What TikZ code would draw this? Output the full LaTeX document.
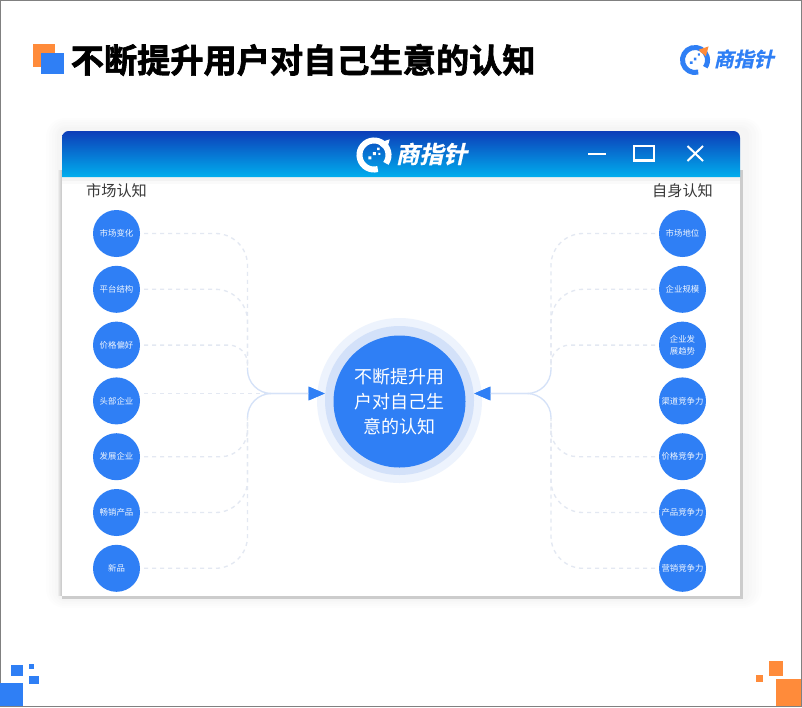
\documentclass[tikz,border=0pt]{standalone}
\usepackage{fontspec}
\setmainfont{Noto Sans CJK SC}
\newfontfamily\titlefont[UprightFont=* Bold,FakeBold=2]{Noto Sans CJK SC}
\newfontfamily\logofont[UprightFont=* Bold,FakeSlant=0.22,FakeBold=0.8]{Noto Sans CJK SC}
\usetikzlibrary{arrows.meta, positioning}
\definecolor{mainblue}{HTML}{2F7FF5}
\definecolor{mainorange}{HTML}{FF8B3A}
\definecolor{barTop}{HTML}{0D3DB8}
\definecolor{barBot}{HTML}{00AEEE}
\definecolor{ringMid}{HTML}{D3E1F9}
\definecolor{ringOut}{HTML}{EDF3FD}
\definecolor{dashGrey}{HTML}{E3E8F2}
\definecolor{hubBlue}{HTML}{D5E2F8}

\begin{document}
\begin{tikzpicture}[
    x=0.75pt, y=-0.75pt,
    itemnode/.style = {shape=circle, fill=mainblue, text=white!92!mainblue, inner sep=0pt,
    outer sep=0pt, minimum size=35.25pt, align=center,
    font=\fontsize{6.3}{8.8}\selectfont},
    headnode/.style = {text=black!78, inner sep=0pt, font=\fontsize{11.4}{13}\selectfont},
    rowlink/.style = {draw=dashGrey, line width=1pt, dash pattern=on 3pt off 3pt,
    shorten <=3pt, rounded corners=24pt},
    hublink/.style = {draw=hubBlue, line width=1pt, rounded corners=18pt,
    -{Triangle[length=12pt, width=10pt, color=mainblue, fill=mainblue]}},
    logotext/.style = {inner sep=0pt, font=\logofont\fontsize{#1}{#1}\selectfont},
    softedge/.style = {fill=black, fill opacity=0.006},
    pics/logomark/.style 2 args = {code = {
      \draw[#1] (75:1) arc[start angle=75, end angle=395, radius=1];
      \fill[#2] (0.3,-0.82) -- (1.08,-1.08) -- (0.86,-0.28) -- (0.68,-0.46) -- (0.45,-0.62) -- cycle;
    }}]

    % page frame
    \useasboundingbox (0,0) rectangle (802,707);
    \fill[white] (0,0) rectangle (802,707);
    \draw[black!50, line width=0.75pt] (0.5,0.5) rectangle (801.5,706.5);

    % heading
    \fill[mainorange] (33,44) rectangle (55,67);
    \fill[mainblue] (41,52.5) rectangle (64,74);
    \node[anchor=west, inner sep=0pt, font=\titlefont\fontsize{24.9}{28}\selectfont] (title) at (70.5,60) {不断提升用户对自己生意的认知};

    % logo, top right
    \begin{scope}[shift={(695,60)}, x=9.4pt, y=-9.4pt, line width=3.75pt]
      \pic {logomark={mainblue}{mainorange}};
      \fill[mainblue] (0.22,-0.52) rectangle +(0.17,0.17) (-0.1,-0.18) rectangle +(0.2,0.2) (-0.4,0.1) rectangle +(0.2,0.2);
    \end{scope}
    \node[logotext=15, text=mainblue, anchor=west] (logoa) at (713.5,59) {商指针};

    % corner squares
    \fill[mainblue] (0,683) rectangle (22.5,706);
    \fill[mainblue] (11,665) rectangle (23,675.5);
    \fill[mainblue] (29,664) rectangle (34,669);
    \fill[mainblue] (29,676) rectangle (39,684);
    \fill[mainorange] (776,679) rectangle (801,706);
    \fill[mainorange] (769,661) rectangle (783,675.5);
    \fill[mainorange] (756,675) rectangle (762.5,682);

    % window
    \fill[softedge, rounded corners=14pt] (46,118) rectangle (762,608);
    \fill[softedge, rounded corners=12pt] (49,120) rectangle (759,606);
    \fill[softedge, rounded corners=10pt] (52,122) rectangle (756,604);
    \fill[softedge, rounded corners=8pt] (55,125) rectangle (752,602);
    \fill[softedge, rounded corners=6pt] (57,127) rectangle (749,601);
    \shade[left color=black!3, right color=black!24] (57,170) rectangle (62,595);
    \fill[black!20] (740,170) rectangle (743,596);
    \fill[black!20] (62,596) rectangle (743,599);
    \fill[white] (62,170) rectangle (740,596);
    \fill[black!5] (62,177) rectangle (740,181);
    \fill[black!2] (62,181) rectangle (740,184);
    \shade[top color=barTop, bottom color=barBot] (62,177)
      {[rounded corners=5pt] -- (62,131) -- (740,131)} -- (740,177) -- cycle;

    % logo in the title bar
    \begin{scope}[shift={(374,155)}, x=10.9pt, y=-10.9pt, line width=4.5pt]
      \pic {logomark={white}{white}};
      \fill[white] (0.22,-0.5) rectangle +(0.17,0.17) (-0.08,-0.2) rectangle +(0.2,0.2) (-0.38,0.1) rectangle +(0.2,0.2) (0.3,-0.15) rectangle +(0.14,0.14);
    \end{scope}
    \node[logotext=17.8, text=white, anchor=west] (logob) at (395.5,154) {商指针};

    % window buttons
    \draw[white, line width=1.5pt] (588,154) -- (606,154);
    \draw[white, line width=1.8pt] (634,146) rectangle (654,160.5);
    \draw[white, line width=1.5pt] (687.5,146) -- (703,161) (703,146) -- (687.5,161);

    \node[headnode] (mkthead) at (116.5,191) {市场认知};
    \node[headnode] (selfhead) at (682.5,191) {自身认知};

    % left column
    \node[itemnode] (mkta) at (116.5,233.5) {市场变化};
    \node[itemnode, below=6.6pt of mkta] (mktb) {平台结构};
    \node[itemnode, below=6.6pt of mktb] (mktc) {价格偏好};
    \node[itemnode, below=6.6pt of mktc] (mktd) {头部企业};
    \node[itemnode, below=6.6pt of mktd] (mkte) {发展企业};
    \node[itemnode, below=6.6pt of mkte] (mktf) {畅销产品};
    \node[itemnode, below=6.6pt of mktf] (mktg) {新品};

    % right column
    \node[itemnode] (selfa) at (682.5,233.5) {市场地位};
    \node[itemnode, below=6.6pt of selfa] (selfb) {企业规模};
    \node[itemnode, below=6.6pt of selfb] (selfc) {企业发\\展趋势};
    \node[itemnode, below=6.6pt of selfc] (selfd) {渠道竞争力};
    \node[itemnode, below=6.6pt of selfd] (selfe) {价格竞争力};
    \node[itemnode, below=6.6pt of selfe] (selff) {产品竞争力};
    \node[itemnode, below=6.6pt of selff] (selfg) {营销竞争力};

    % middle circle
    \node[circle, fill=ringOut, minimum size=123.75pt, inner sep=0pt] (ringa) at (399.5,400.5) {};
    \node[circle, fill=ringMid, minimum size=111.75pt, inner sep=0pt] (ringb) at (ringa) {};
    \node[circle, fill=mainblue, text=white, minimum size=99pt, inner sep=0pt, align=center,
      font=\fontsize{13.5}{19}\selectfont] (goal) at (399.5,401.5) {不断提升用\\户对自己生\\意的认知};

    \coordinate (ltop) at (247.5,368);
    \coordinate (lbot) at (247.5,418);
    \coordinate (lhub) at (247.5,393.5);
    \coordinate (rtop) at (551,368);
    \coordinate (rbot) at (551,418);
    \coordinate (rhub) at (551,393.5);

    % dashed rows
    \draw[rowlink] (mkta.east) -| (ltop);
    \draw[rowlink] (mktb.east) -| (ltop);
    \draw[rowlink, rounded corners=14pt] (mktc.east) -| (ltop);
    \draw[rowlink] (mktd.east |- lhub) -- (lhub -| 272,0);
    \draw[rowlink, rounded corners=20pt] (mkte.east) -| (lbot);
    \draw[rowlink] (mktf.east) -| (lbot);
    \draw[rowlink] (mktg.east) -| (lbot);

    \draw[rowlink] (selfa.west) -| (rtop);
    \draw[rowlink] (selfb.west) -| (rtop);
    \draw[rowlink, rounded corners=14pt] (selfc.west) -| (rtop);
    \draw[rowlink, rounded corners=20pt] (selfe.west) -| (rbot);
    \draw[rowlink] (selff.west) -| (rbot);
    \draw[rowlink] (selfg.west) -| (rbot);

    % into the middle
    \draw[hublink] (ltop) -- (lhub) -- (ringb.west |- lhub);
    \draw[hublink] (lbot) -- (lhub) -- (ringb.west |- lhub);
    \draw[hublink] (rtop) -- (rhub) -- (ringb.east |- rhub);
    \draw[hublink] (rbot) -- (rhub) -- (ringb.east |- rhub);
\end{tikzpicture}
\end{document}
